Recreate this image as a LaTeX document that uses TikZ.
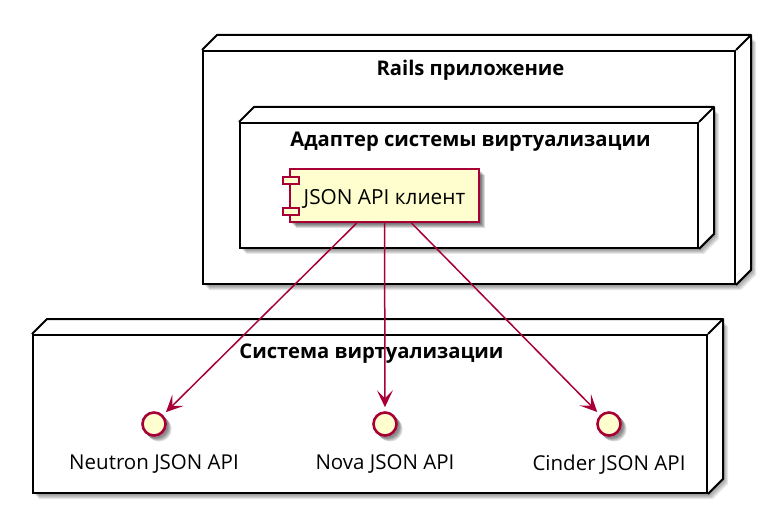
\documentclass[tikz,border=0pt]{standalone}
\usepackage{fontspec}
\setmainfont{Open Sans}
\usetikzlibrary{arrows.meta, positioning, calc}

\definecolor{umlred}{HTML}{A80036}
\definecolor{umlfill}{HTML}{FEFECE}

\tikzset{
    softshadow/.style={fill=black, fill opacity=0.09, draw=none},
    boxnode/.style={rectangle, draw=black, line width=2pt, inner sep=0pt},
    boxtitle/.style={font=\fontsize{20.2}{22}\selectfont\bfseries, inner sep=0pt, xshift=1.5pt},
    apilabel/.style={font=\fontsize{20.5}{22}\selectfont, inner sep=0pt},
    clientbox/.style={rectangle, draw=umlred, fill=umlfill, line width=2pt, inner sep=0pt,
        minimum width=189pt, minimum height=53pt, text height=18pt, text depth=0pt,
        font=\fontsize{20.8}{22}\selectfont},
    clienttab/.style={rectangle, draw=umlred, fill=umlfill, line width=2pt, inner sep=0pt,
        minimum width=16pt, minimum height=7pt},
    apicircle/.style={circle, draw=umlred, fill=umlfill, line width=2.6pt, inner sep=0pt,
        minimum size=23pt},
    apiarrow/.style={draw=umlred, line width=1.5pt, shorten >=4pt,
        -{Stealth[length=17pt, width=16pt, inset=8pt]}},
}

% box with a 3d edge: name, left, top, right, bottom
\newcommand{\deploybox}[5]{
    \foreach \s in {2,3,4,5,6}
        \fill[softshadow, shift={(\s,\s)}] (#2,#3) -- ++(15,-15) -- (#4+15,#3-15) -- (#4+15,#5-15) -- (#4,#5) -- (#2,#5) -- cycle;
    \fill[white] (#2,#3) -- ++(15,-15) -- (#4+15,#3-15) -- (#4+15,#5-15) -- (#4,#5) -- (#2,#5) -- cycle;
    \node[boxnode, minimum width=#4pt-#2pt, minimum height=#5pt-#3pt] (#1) at ({(#2+#4)/2},{(#3+#5)/2}) {};
    \draw[black, line width=2pt, line join=round] (#1.north west) -- ++(15,-15) -- ($(#1.north east)+(15,-15)$) -- ($(#1.south east)+(15,-15)$) -- (#1.south east);
    \draw[black, line width=2pt] (#1.north east) -- ++(15,-15);
}
% small circle of an interface: name, x, y
\newcommand{\apipoint}[3]{
    \foreach \s in {2,3,4,5}
        \fill[softshadow, fill opacity=0.14] (#2+\s,#3+\s) circle (12.5);
    \node[apicircle] (#1) at (#2,#3) {};
}

\begin{document}
\begin{tikzpicture}[x=1pt, y=-1pt]
    \useasboundingbox (0,0) rectangle (780,508);

    \deploybox{rails}{203}{51}{735}{284}
    \node[boxtitle, below=10pt of rails.north] (railstitle) {Rails приложение};

    \deploybox{adapter}{240}{123}{698}{248}
    \node[boxtitle, below=10pt of adapter.north] (adaptertitle) {Адаптер системы виртуализации};

    \deploybox{virt}{33}{335}{707}{493}
    \node[boxtitle, below=10pt of virt.north] (virttitle) {Система виртуализации};

    \foreach \s in {2,3,4,5,6}
        \fill[softshadow, fill opacity=0.14] (290+\s,169+\s) rectangle (479+\s,222+\s);
    \node[clientbox] (client) at (384.5,195.5) {JSON API клиент};
    \node[clienttab] (tabtop) at (291,180.5) {};
    \node[clienttab] (tabbottom) at (291,211.5) {};

    \apipoint{neutron}{154}{424}
    \apipoint{nova}{385}{424}
    \apipoint{cinder}{609}{424}

    \node[apilabel, below=18pt of neutron] (neutronlabel) {Neutron JSON API};
    \node[apilabel, below=18pt of nova] (novalabel) {Nova JSON API};
    \node[apilabel, below=18pt of cinder] (cinderlabel) {Cinder JSON API};

    \draw[apiarrow] (client) -- (neutron);
    \draw[apiarrow] (client) -- (nova);
    \draw[apiarrow] (client) -- (cinder);
\end{tikzpicture}
\end{document}
